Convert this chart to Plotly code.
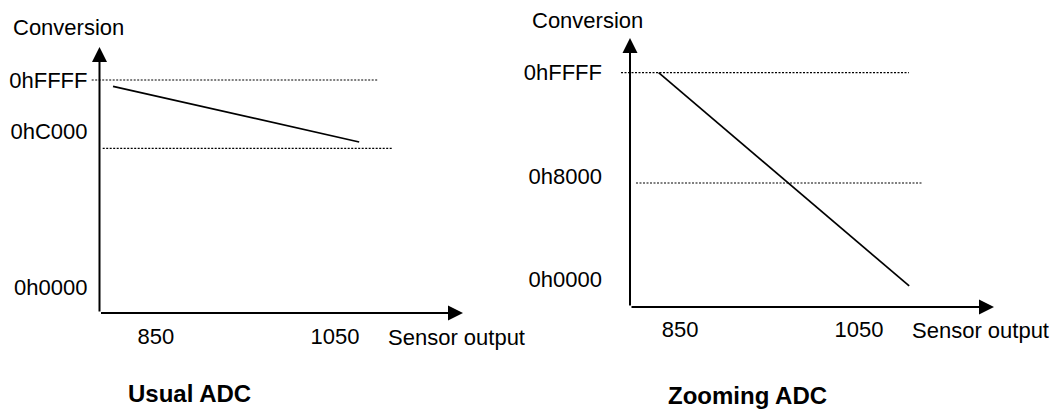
import plotly.graph_objects as go

# ---- data ----
usual_x = [802, 1077]
usual_y = [63540, 45900]
zoom_x = [826, 1106]
zoom_y = [65535, -2100]

x_tickvals = [850, 1050]
x_ticktext = ["850", "1050"]

usual_tickvals = [0, 49152, 65535]
usual_ticktext = ["0h0000", "0hC000", "0hFFFF"]
zoom_tickvals = [0, 32768, 65535]
zoom_ticktext = ["0h0000", "0h8000", "0hFFFF"]

usual_guides = [65535, 43900]
zoom_guides = [65535, 30550]

titles = ["Usual ADC", "Zooming ADC"]
y_label = "Conversion"
x_label = "Sensor output"

# ---- layout constants ----
# the page body has an 8px margin, so the figure is 8px smaller and all
# reference pixel positions are shifted by 8px
OFF = 8
W, H = 1059 - OFF, 409 - OFF
FONT = "Liberation Sans, Arial, sans-serif"
FS = 22
BFS = 24


def px(x):
    return (x - OFF) / W


def py(y):
    return 1 - (y - OFF) / H


fig = go.Figure()

fig.add_trace(go.Scatter(x=usual_x, y=usual_y, mode="lines",
                         line=dict(color="black", width=1.7),
                         xaxis="x", yaxis="y", showlegend=False, hoverinfo="skip"))
fig.add_trace(go.Scatter(x=zoom_x, y=zoom_y, mode="lines",
                         line=dict(color="black", width=1.7),
                         xaxis="x2", yaxis="y2", showlegend=False, hoverinfo="skip"))

axis_common = dict(showgrid=False, zeroline=False, showline=False, ticks="",
                   tickfont=dict(family=FONT, size=FS, color="black"), fixedrange=True)

fig.update_layout(
    width=W, height=H,
    margin=dict(l=0, r=0, t=0, b=0),
    paper_bgcolor="white", plot_bgcolor="white",
    showlegend=False,
    xaxis=dict(domain=[px(99.5), px(463)], range=[786.9, 1193], anchor="y",
               tickvals=x_tickvals, ticktext=x_ticktext, ticklabelstandoff=8,
               **axis_common),
    yaxis=dict(domain=[py(313), py(47)], range=[-8232, 75984], anchor="x",
               tickvals=usual_tickvals, ticktext=usual_ticktext, ticklabelstandoff=11,
               **axis_common),
    xaxis2=dict(domain=[px(630), px(994)], range=[794, 1200.8], anchor="y2",
                tickvals=x_tickvals, ticktext=x_ticktext, ticklabelstandoff=7,
                **axis_common),
    yaxis2=dict(domain=[py(307), py(38)], range=[-8787, 76540], anchor="x2",
                tickvals=zoom_tickvals, ticktext=zoom_ticktext, ticklabelstandoff=27,
                **axis_common),
)

# dotted guide lines
guide_spans_usual = [(-0.0215, 0.766), (0.0088, 0.807)]
guide_spans_zoom = [(-0.0247, 0.766), (0.0165, 0.805)]
dotted = dict(color="black", width=1.2, dash="2px,1.5px")
for lvl, (a, b) in zip(usual_guides, guide_spans_usual):
    fig.add_shape(type="line", xref="x domain", yref="y", x0=a, x1=b, y0=lvl, y1=lvl,
                  line=dotted)
for lvl, (a, b) in zip(zoom_guides, guide_spans_zoom):
    fig.add_shape(type="line", xref="x2 domain", yref="y2", x0=a, x1=b, y0=lvl, y1=lvl,
                  line=dotted)

# axis arrows
for xa, ya in [("x", "y"), ("x2", "y2")]:
    for tip in [(1, 0), (0, 1)]:
        fig.add_annotation(x=tip[0], y=tip[1], ax=0, ay=0,
                           xref=f"{xa} domain", yref=f"{ya} domain",
                           axref=f"{xa} domain", ayref=f"{ya} domain",
                           showarrow=True, arrowhead=2, arrowsize=1.5, arrowwidth=2,
                           arrowcolor="black", text="")

txt = dict(family=FONT, size=FS, color="black")
# axis labels
fig.add_annotation(x=px(11), y=py(27), xref="paper", yref="paper", text=y_label,
                   showarrow=False, xanchor="left", yanchor="middle", font=txt)
fig.add_annotation(x=px(530), y=py(20), xref="paper", yref="paper", text=y_label,
                   showarrow=False, xanchor="left", yanchor="middle", font=txt)
fig.add_annotation(x=px(386), y=py(337), xref="paper", yref="paper", text=x_label,
                   showarrow=False, xanchor="left", yanchor="middle", font=txt)
fig.add_annotation(x=px(910), y=py(330), xref="paper", yref="paper", text=x_label,
                   showarrow=False, xanchor="left", yanchor="middle", font=txt)
# panel titles
bold = dict(family=FONT, size=BFS, color="black")
fig.add_annotation(x=px(189), y=py(393), xref="paper", yref="paper",
                   text=f"<b>{titles[0]}</b>", showarrow=False,
                   xanchor="center", yanchor="middle", font=bold)
fig.add_annotation(x=px(747), y=py(395), xref="paper", yref="paper",
                   text=f"<b>{titles[1]}</b>", showarrow=False,
                   xanchor="center", yanchor="middle", font=bold)

fig.write_html("out.html")
